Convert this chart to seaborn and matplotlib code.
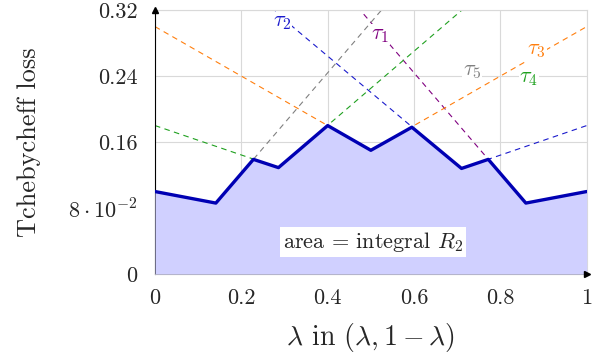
import matplotlib
matplotlib.use("Agg")
import matplotlib.pyplot as plt
import seaborn as sns

# Tchebycheff loss curves of five solutions: V-shape vertices (lambda, loss)
tau_names = [r"$\tau_1$", r"$\tau_2$", r"$\tau_3$", r"$\tau_4$", r"$\tau_5$"]
tau1_x = [0.0, 0.859, 1.0]
tau1_y = [0.61, 0.086, 0.10]
tau2_x = [0.0, 0.710, 1.0]
tau2_y = [0.44, 0.128, 0.18]
tau3_x = [0.0, 0.500, 1.0]
tau3_y = [0.30, 0.150, 0.30]
tau4_x = [0.0, 0.286, 1.0]
tau4_y = [0.18, 0.129, 0.45]
tau5_x = [0.0, 0.141, 1.0]
tau5_y = [0.10, 0.086, 0.61]

# lower envelope (best loss per lambda)
env_x = [0.0, 0.141, 0.228, 0.286, 0.400, 0.500, 0.595, 0.710, 0.772, 0.859, 1.0]
env_y = [0.100, 0.086, 0.139, 0.129, 0.180, 0.150, 0.178, 0.128, 0.139, 0.086, 0.100]

x_ticks = [0, 0.2, 0.4, 0.6, 0.8, 1]
x_tick_labels = ["0", "0.2", "0.4", "0.6", "0.8", "1"]
y_ticks = [0, 0.08, 0.16, 0.24, 0.32]
y_tick_labels = ["0", r"$8\cdot10^{-2}$", "0.16", "0.24", "0.32"]

sns.set_style("white")
plt.rcParams["font.family"] = ["serif"]
plt.rcParams["font.serif"] = ["cmr10", "DejaVu Serif"]
plt.rcParams["mathtext.fontset"] = "cm"
plt.rcParams["axes.unicode_minus"] = False

fig = plt.figure(figsize=(6.03, 3.61), dpi=100)
ax = fig.add_axes([0.257, 0.241, 0.716, 0.731])

colors = ["#800080", "#1a1acc", "#ff7f0e", "#1fa01f", "#808080"]
curves = [(tau1_x, tau1_y), (tau2_x, tau2_y), (tau3_x, tau3_y),
          (tau4_x, tau4_y), (tau5_x, tau5_y)]
for (cx, cy), c in zip(curves, colors):
    sns.lineplot(x=cx, y=cy, ax=ax, color=c, linestyle=(0, (5, 4)),
                 linewidth=0.8, sort=False, estimator=None, zorder=2)

ax.fill_between(env_x, 0, env_y, color="#d0d0ff", linewidth=0, zorder=3)
sns.lineplot(x=env_x, y=env_y, ax=ax, color="#0000b3", linewidth=2.4,
             sort=False, estimator=None, zorder=4)

# curve labels
label_pos = [(0.521, 0.290), (0.294, 0.305), (0.884, 0.271), (0.866, 0.237), (0.734, 0.246)]
for name, (lx, ly), c in zip(tau_names, label_pos, colors):
    ax.text(lx, ly, name, color=c, fontsize=16, ha="center", va="center",
            bbox=dict(facecolor="white", edgecolor="none", pad=0.5), zorder=5)

ax.text(0.505, 0.039, r"area = integral $R_2$", fontsize=16, ha="center", va="center",
        bbox=dict(facecolor="white", edgecolor="none", pad=2), zorder=5)

ax.set_xlim(0, 1)
ax.set_ylim(0, 0.32)
ax.set_xticks(x_ticks)
ax.set_xticklabels(x_tick_labels)
ax.set_yticks(y_ticks)
ax.set_yticklabels(y_tick_labels)
ax.tick_params(axis="both", labelsize=16, direction="inout", length=5, width=0.6,
               color="#555555")
ax.tick_params(axis="x", pad=8)
ax.tick_params(axis="y", pad=10)
ax.grid(True, color="#d9d9d9", linewidth=0.8, zorder=0)
ax.set_axisbelow(True)

for side in ["top", "right"]:
    ax.spines[side].set_color("#d9d9d9")
    ax.spines[side].set_linewidth(0.8)
ax.spines["left"].set_color("black")
ax.spines["left"].set_linewidth(0.8)
ax.spines["bottom"].set_color("#999999")
ax.spines["bottom"].set_linewidth(0.8)
ax.plot([0], [1], marker="^", color="black", markersize=4, transform=ax.transAxes,
        clip_on=False, zorder=6)
ax.plot([1], [0], marker=">", color="black", markersize=4, transform=ax.transAxes,
        clip_on=False, zorder=6)

ax.set_xlabel(r"$\lambda$ in $(\lambda, 1-\lambda)$", fontsize=20, va="center")
ax.set_ylabel("Tchebycheff loss", fontsize=19, va="center")
ax.xaxis.set_label_coords(0.5, -0.239)
ax.yaxis.set_label_coords(-0.292, 0.5)

fig.savefig("out.png", dpi=100)
